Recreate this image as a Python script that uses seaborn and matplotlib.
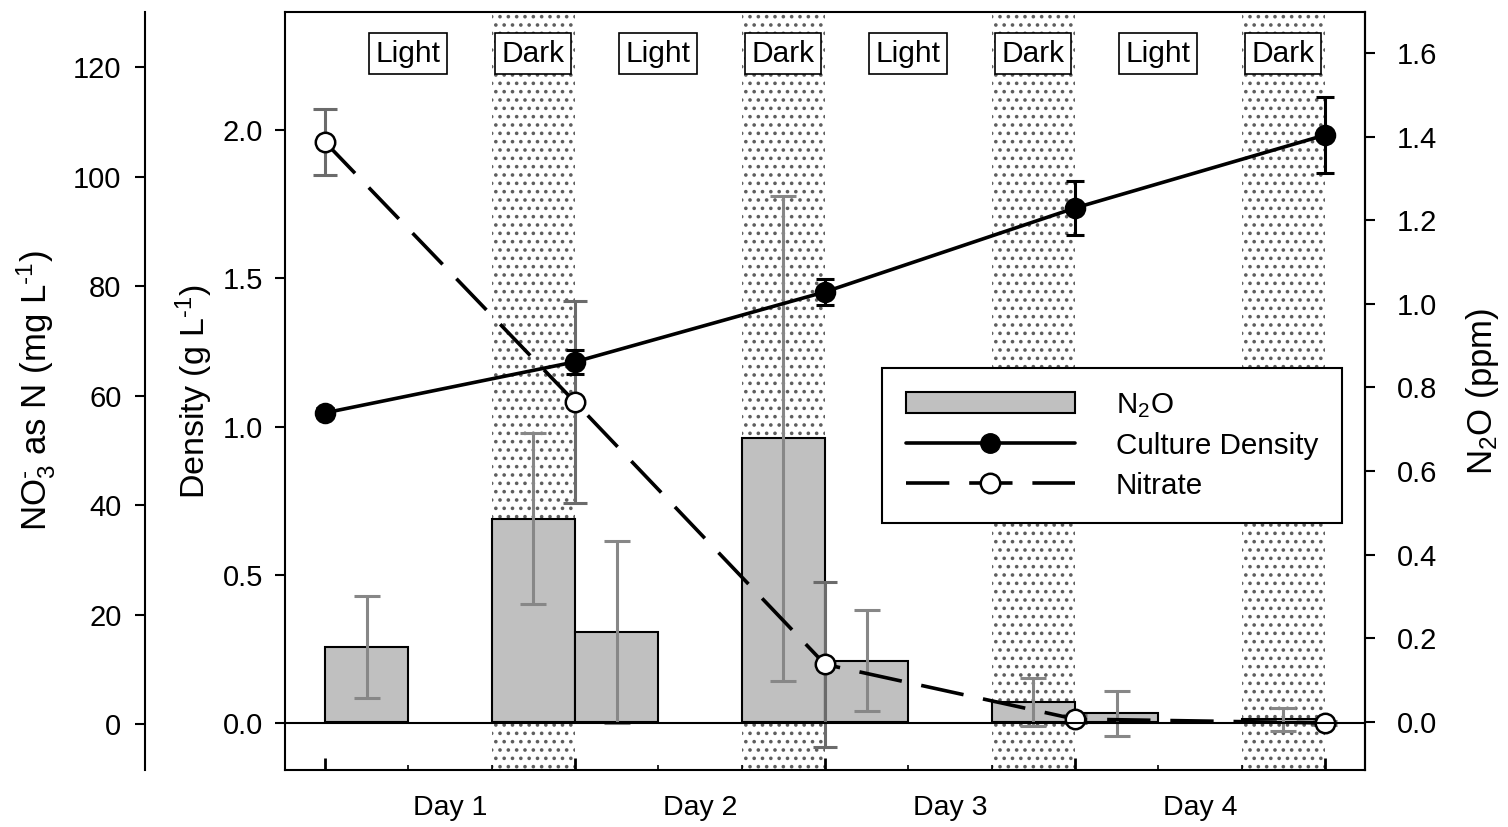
import numpy as np
import pandas as pd
import seaborn as sns
import matplotlib.pyplot as plt
from matplotlib.patches import Patch
from matplotlib.lines import Line2D
from matplotlib import transforms

# sampling times (days) and the day names shown under the axis
t_days = [0, 1, 2, 3, 4]
day_labels = ['Day 1', 'Day 2', 'Day 3', 'Day 4']

# culture density (g/L) and nitrate (mg N/L) at each sampling time
density = [1.046, 1.218, 1.454, 1.737, 1.983]
density_err = [0.015, 0.04, 0.044, 0.09, 0.127]
nitrate = [106.3, 58.8, 10.9, 0.9, 0.2]
nitrate_err = [6.0, 18.5, 15.1, 0.8, 0.3]

# light / dark periods (16 h light, 8 h dark) and N2O measured in each
period_name = ['Light', 'Dark'] * 4
period_start = [0, 2/3, 1, 5/3, 2, 8/3, 3, 11/3]
period_end = [2/3, 1, 5/3, 2, 8/3, 3, 11/3, 4]
n2o = [0.179, 0.486, 0.215, 0.679, 0.146, 0.047, 0.021, 0.006]
n2o_err = [0.122, 0.205, 0.218, 0.58, 0.121, 0.057, 0.054, 0.028]
bar_w = 1/3

sns.set_style('ticks')
plt.rcParams['font.family'] = ['Liberation Sans', 'DejaVu Sans']
plt.rcParams['mathtext.fontset'] = 'custom'
plt.rcParams['mathtext.rm'] = 'Liberation Sans'
plt.rcParams['mathtext.it'] = 'Liberation Sans:italic'
plt.rcParams['mathtext.bf'] = 'Liberation Sans:bold'
plt.rcParams['mathtext.default'] = 'regular'
plt.rcParams['axes.edgecolor'] = 'black'
plt.rcParams['xtick.color'] = 'black'
plt.rcParams['ytick.color'] = 'black'
plt.rcParams['text.color'] = 'black'
plt.rcParams['axes.labelcolor'] = 'black'
plt.rcParams['hatch.linewidth'] = 1.4

fig = plt.figure(figsize=(15.08, 8.27), dpi=100)
ax = fig.add_axes([285/1508, 1 - 770/827, 1080/1508, 758/827])
ax_n2o = ax.twinx()
ax_no3 = ax.twinx()

# stacking: bars at the back, nitrate in the middle, density on top
ax_n2o.set_zorder(1)
ax_no3.set_zorder(2)
ax.set_zorder(3)
ax.patch.set_visible(False)
ax_no3.patch.set_visible(False)
ax_n2o.patch.set_visible(True)
ax_n2o.patch.set_facecolor('white')

# dark periods shaded with a dot pattern
for name, s, e in zip(period_name, period_start, period_end):
    if name == 'Dark':
        ax_n2o.axvspan(s, e, facecolor='white', edgecolor='#5e5e5e',
                       hatch='..', linewidth=0, zorder=0)

# N2O bars
ax_n2o.bar(period_start, n2o, width=bar_w, align='edge', color='#c0c0c0',
           edgecolor='black', linewidth=1.5, zorder=2)
bar_mid = [s + bar_w / 2 for s in period_start]
ax_n2o.errorbar(bar_mid, n2o, yerr=n2o_err, fmt='none', ecolor='#878787',
                elinewidth=2.2, capsize=9.4, capthick=2.2, zorder=3)

# nitrate
ax_no3.errorbar(t_days, nitrate, yerr=nitrate_err, fmt='none', ecolor='#6b6b6b',
                elinewidth=2.2, capsize=8.5, capthick=2.2)
sns.lineplot(x=t_days, y=nitrate, ax=ax_no3, color='black', linewidth=2.6,
             linestyle=(0, (12, 5.5)), marker='o', markersize=14,
             markerfacecolor='white', markeredgecolor='black', markeredgewidth=1.8)

# culture density
ax.axhline(0, color='black', linewidth=1.5, zorder=1)
ax.errorbar(t_days, density, yerr=density_err, fmt='none', ecolor='black',
            elinewidth=2.2, capsize=6.8, capthick=2.2)
sns.lineplot(x=t_days, y=density, ax=ax, color='black', linewidth=2.6,
             marker='o', markersize=14, markerfacecolor='black',
             markeredgecolor='black', markeredgewidth=1.5)

# axes ranges and ticks
ax.set_xlim(-0.16, 4.16)
ax.set_ylim(-0.1585, 2.398)
ax_n2o.set_ylim(-0.115, 1.698)
ax_no3.set_ylim(-8.4, 130.05)

ax.set_yticks(np.arange(0, 2.01, 0.5))
ax.set_yticklabels([f'{v:.1f}' for v in np.arange(0, 2.01, 0.5)])
ax_n2o.set_yticks(np.arange(0, 1.61, 0.2))
ax_n2o.set_yticklabels([f'{v:.1f}' for v in np.arange(0, 1.61, 0.2)])
ax_no3.set_yticks(np.arange(0, 121, 20))

ax.set_xticks(t_days)
ax.set_xticklabels([])
minor_x = [s for s in period_start if s not in t_days] + [s + bar_w for s in t_days[:-1]]
ax.set_xticks(sorted(minor_x), minor=True)
ax.tick_params(axis='x', which='major', direction='in', length=8.5, width=2)
ax.tick_params(axis='x', which='minor', direction='in', length=3.6, width=1.2)
ax.tick_params(axis='y', which='major', direction='out', length=7, width=1.5,
               labelsize=21, pad=9)
ax_n2o.tick_params(axis='y', direction='out', length=7, width=1.5, labelsize=21, pad=16)
ax_no3.tick_params(axis='y', direction='out', length=7, width=1.5, labelsize=21, pad=10)

for sp in ax.spines.values():
    sp.set_linewidth(1.5)
for name in ['top', 'bottom', 'left']:
    ax_n2o.spines[name].set_visible(False)
ax_n2o.spines['right'].set_linewidth(1.5)
for name in ['top', 'bottom', 'right']:
    ax_no3.spines[name].set_visible(False)
ax_no3.spines['left'].set_visible(True)
ax_no3.spines['left'].set_position(('axes', -140/1080))
ax_no3.spines['left'].set_linewidth(1.5)
ax_no3.yaxis.set_ticks_position('left')
ax_no3.yaxis.set_label_position('left')

# day names centred between sampling times
trans = transforms.blended_transform_factory(ax.transData, ax.transAxes)
for k, lab in enumerate(day_labels):
    ax.text((t_days[k] + t_days[k + 1]) / 2, -0.033, lab, transform=trans,
            ha='center', va='top', fontsize=20.5)

# light / dark tags
for name, s, e in zip(period_name, period_start, period_end):
    ax.text((s + e) / 2, 0.945, name, transform=trans, ha='center', va='center',
            fontsize=21.5, bbox=dict(boxstyle='square,pad=0.22', facecolor='white',
                                     edgecolor='black', linewidth=1.2))

# axis titles
hy = '\u2010'
ax.set_ylabel(f'Density (g L$^{{{hy}1}}$)', fontsize=24.5, labelpad=5)
ax_no3.set_ylabel(f'NO$_3^{{{hy}}}$ as N (mg L$^{{{hy}1}}$)', fontsize=25, labelpad=11)
ax_n2o.set_ylabel('N$_2$O (ppm)', fontsize=25, labelpad=19)

# legend
handles = [
    Patch(facecolor='#c0c0c0', edgecolor='black', linewidth=1.5, label='N$_2$O'),
    Line2D([], [], color='black', linewidth=2.6, marker='o', markersize=14,
           markerfacecolor='black', label='Culture Density'),
    Line2D([], [], color='black', linewidth=2.6, linestyle=(0, (12, 5.5)), marker='o',
           markersize=14, markerfacecolor='white', markeredgewidth=1.8, label='Nitrate'),
]
leg = ax.legend(handles=handles, loc='upper left', bbox_to_anchor=(0.553, 0.531),
                borderaxespad=0, fontsize=21.3, handlelength=5.7, handletextpad=1.4,
                labelspacing=0.4, borderpad=0.8, fancybox=False, framealpha=1)
leg.get_frame().set_edgecolor('black')
leg.get_frame().set_linewidth(1.5)

fig.savefig('out.png', dpi=100)
